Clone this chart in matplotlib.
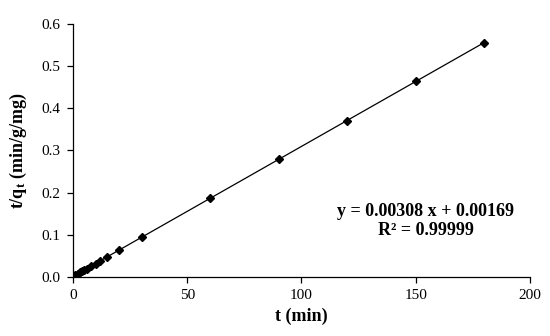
import matplotlib
matplotlib.use("Agg")
import matplotlib.pyplot as plt
import numpy as np

t_min = [1, 2, 3, 4, 5, 6, 8, 10, 12, 15, 20, 30, 60, 90, 120, 150, 180]
t_over_q = [0.005, 0.008, 0.011, 0.014, 0.017, 0.020, 0.026, 0.032, 0.039, 0.048,
            0.063, 0.094, 0.187, 0.279, 0.371, 0.464, 0.556]
slope = 0.00308
intercept = 0.00169
x_ticks = [0, 50, 100, 150, 200]
y_ticks = [0.0, 0.1, 0.2, 0.3, 0.4, 0.5, 0.6]

plt.rcParams['font.family'] = ['Liberation Serif', 'DejaVu Serif']
plt.rcParams['mathtext.fontset'] = 'custom'
plt.rcParams['mathtext.rm'] = 'Liberation Serif'
plt.rcParams['mathtext.bf'] = 'Liberation Serif:bold'
plt.rcParams['mathtext.it'] = 'Liberation Serif:italic'

fig = plt.figure(figsize=(5.5, 3.36), dpi=100)
ax = fig.add_axes([0.1327, 0.1756, 0.8309, 0.753])

fit_x = np.array([0, 180])
ax.plot(fit_x, slope * fit_x + intercept, color='black', lw=0.9, zorder=2)
ax.plot(t_min, t_over_q, linestyle='none', marker='D', ms=4.2, color='black', zorder=3)

ax.set_xlim(0, 200)
ax.set_ylim(0, 0.6)
ax.set_xticks(x_ticks)
ax.set_yticks(y_ticks)
ax.set_xticklabels([str(v) for v in x_ticks])
ax.set_yticklabels([f"{v:.1f}" for v in y_ticks])
ax.spines['top'].set_visible(False)
ax.spines['right'].set_visible(False)
for s in ('left', 'bottom'):
    ax.spines[s].set_color('black')
    ax.spines[s].set_linewidth(0.9)
ax.tick_params(axis='both', direction='out', length=4, width=0.9, colors='black', labelsize=11)
ax.tick_params(axis='x', pad=5)
ax.tick_params(axis='y', pad=5)

ax.set_xlabel('t (min)', fontsize=13, fontweight='bold', labelpad=4)
ax.set_ylabel(r't/q$_\mathbf{t}$ (min/g/mg)', fontsize=13, fontweight='bold', labelpad=9)

ax.text(0.772, 0.222, 'y = 0.00308 x + 0.00169\nR² = 0.99999', transform=ax.transAxes,
        ha='center', va='center', fontsize=13, fontweight='bold', linespacing=1.15)

fig.savefig('out.png', dpi=100)
